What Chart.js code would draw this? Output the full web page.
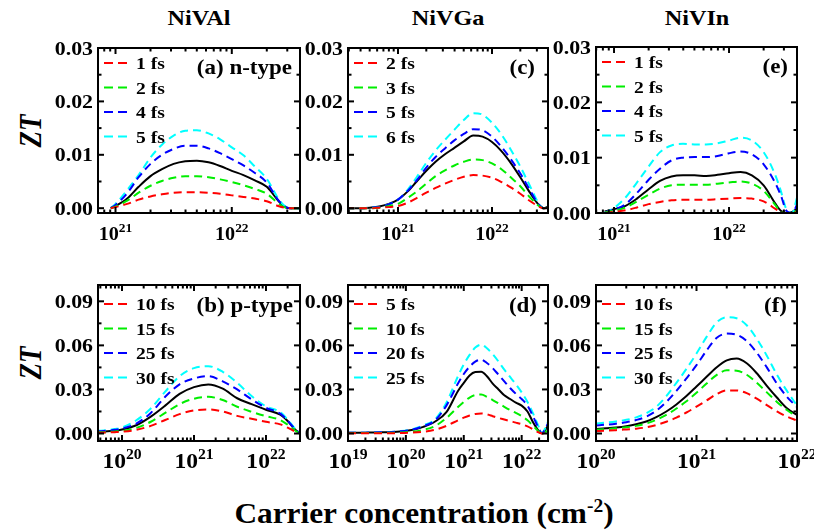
<!DOCTYPE html>
<html><head><meta charset="utf-8">
<script src="https://cdn.jsdelivr.net/npm/chart.js@4/dist/chart.umd.min.js"></script>
<style>
body{margin:0;background:#fff;width:814px;height:532px;overflow:hidden;position:relative;font-family:"Liberation Serif","Times New Roman",serif;}
canvas{position:absolute;}
.t{position:absolute;font-weight:bold;white-space:nowrap;color:#000;line-height:1;}
</style></head><body>
<div class="t" style="left:199px;top:18px;font-size:22px;transform:translate(-50%,-50%) scaleX(1.1)">NiVAl</div>
<div class="t" style="left:448px;top:18px;font-size:22px;transform:translate(-50%,-50%) scaleX(1.1)">NiVGa</div>
<div class="t" style="left:697px;top:18px;font-size:22px;transform:translate(-50%,-50%) scaleX(1.1)">NiVIn</div>
<div class="t" style="left:31px;top:131px;font-size:27px;font-style:italic;transform:translate(-50%,-50%) rotate(-90deg) scaleY(1.15)">ZT</div>
<div class="t" style="left:31px;top:363px;font-size:27px;font-style:italic;transform:translate(-50%,-50%) rotate(-90deg) scaleY(1.15)">ZT</div>
<div class="t" style="left:424px;top:512px;font-size:29px;transform:translate(-50%,-50%) scaleX(1.08)">Carrier concentration (cm<sup style="font-size:18px;vertical-align:11px">-2</sup>)</div>
<script>
// ---------- DATA ----------
const colors = ['#ff0000', '#00ee00', '#0000ff', '#00ffff'];

// (a) NiVAl n-type
const xA = [9.1e20, 1e21, 1.26e21, 1.58e21, 2e21, 2.51e21, 3.16e21, 3.98e21, 5.01e21, 6.31e21, 7.94e21, 1e22, 1.26e22, 1.58e22, 2e22, 2.51e22, 2.82e22, 3.16e22, 3.86e22];
const labelsA = ['1 fs', '2 fs', '4 fs', '5 fs'];
const a1 = [0, 0.0002, 0.0008, 0.0016, 0.0022, 0.0026, 0.0029, 0.0030, 0.0030, 0.0029, 0.0027, 0.0024, 0.0021, 0.0018, 0.0013, 0.0004, 0.0001, 0, 0];
const a2 = [0, 0.0003, 0.0014, 0.0029, 0.0042, 0.0051, 0.0057, 0.0060, 0.0060, 0.0058, 0.0054, 0.0049, 0.0043, 0.0036, 0.0027, 0.0009, 0.0002, 0, 0];
const a4 = [0, 0.0006, 0.0028, 0.0058, 0.0083, 0.0100, 0.0111, 0.0117, 0.0117, 0.0112, 0.0103, 0.0092, 0.0080, 0.0066, 0.0048, 0.0015, 0.0004, 0, 0];
const a5 = [0, 0.0008, 0.0034, 0.0062, 0.0095, 0.0119, 0.0136, 0.0145, 0.0146, 0.0140, 0.0129, 0.0114, 0.0099, 0.0078, 0.0055, 0.0018, 0.0005, 0, 0];
const aK = [0, 0.0004, 0.0018, 0.0040, 0.0060, 0.0073, 0.0083, 0.0088, 0.0089, 0.0086, 0.0079, 0.0070, 0.0062, 0.0052, 0.0040, 0.0014, 0.0003, 0, 0];

// (c) NiVGa n-type
const xC = [2.82e20, 3.98e20, 5.01e20, 6.31e20, 7.94e20, 1e21, 1.26e21, 1.58e21, 2e21, 2.51e21, 3.16e21, 3.98e21, 5.01e21, 6.31e21, 7.94e21, 1e22, 1.26e22, 1.58e22, 2e22, 2.51e22, 3.16e22, 3.55e22, 3.98e22];
const labelsC = ['2 fs', '3 fs', '5 fs', '6 fs'];
const c2 = [0, 0, 0, 0.0001, 0.0002, 0.0004, 0.0010, 0.0019, 0.0029, 0.0038, 0.0046, 0.0053, 0.0059, 0.0062, 0.0061, 0.0057, 0.0049, 0.0039, 0.0027, 0.0014, 0.0003, 0, 0.0001];
const c3 = [0, 0, 0, 0.0001, 0.0004, 0.0008, 0.0019, 0.0031, 0.0046, 0.0060, 0.0071, 0.0080, 0.0087, 0.0091, 0.0090, 0.0084, 0.0073, 0.0058, 0.0041, 0.0021, 0.0004, 0, 0.0002];
const c5 = [0, 0, 0.0001, 0.0002, 0.0007, 0.0016, 0.0032, 0.0052, 0.0076, 0.0096, 0.0112, 0.0127, 0.0139, 0.0148, 0.0146, 0.0134, 0.0115, 0.0092, 0.0065, 0.0035, 0.0006, 0, 0.0003];
const c6 = [0, 0, 0.0001, 0.0002, 0.0007, 0.0016, 0.0034, 0.0058, 0.0085, 0.0108, 0.0128, 0.0147, 0.0165, 0.0178, 0.0175, 0.0160, 0.0138, 0.0110, 0.0078, 0.0043, 0.0008, 0, 0.0004];
const cK = [0, 0, 0.0001, 0.0003, 0.0008, 0.0016, 0.0031, 0.0050, 0.0070, 0.0087, 0.0101, 0.0113, 0.0125, 0.0136, 0.0134, 0.0124, 0.0107, 0.0085, 0.0058, 0.0030, 0.0006, 0, 0.0003];

// (e) NiVIn n-type
const xE = [8.3e20, 1e21, 1.26e21, 1.58e21, 2e21, 2.51e21, 3.16e21, 3.98e21, 5.01e21, 6.31e21, 7.94e21, 1e22, 1.26e22, 1.58e22, 2e22, 2.51e22, 2.82e22, 3.16e22, 3.55e22, 3.9e22];
const labelsE = ['1 fs', '2 fs', '4 fs', '5 fs'];
const e1 = [0, 0.0002, 0.0005, 0.0010, 0.0016, 0.0020, 0.0023, 0.0024, 0.0024, 0.0024, 0.0025, 0.0026, 0.0027, 0.0026, 0.0021, 0.0008, 0.0001, 0, 0, 0.0002];
const e2 = [0.0001, 0.0004, 0.0010, 0.0021, 0.0033, 0.0044, 0.0050, 0.0051, 0.0051, 0.0051, 0.0053, 0.0055, 0.0057, 0.0053, 0.0040, 0.0015, 0.0002, 0, 0, 0.0004];
const e4 = [0.0001, 0.0006, 0.0016, 0.0036, 0.0060, 0.0080, 0.0095, 0.0100, 0.0101, 0.0101, 0.0103, 0.0108, 0.0111, 0.0106, 0.0088, 0.0055, 0.0032, 0.0004, 0, 0.0015];
const e5 = [0, 0.0009, 0.0028, 0.0055, 0.0084, 0.0110, 0.0122, 0.0125, 0.0124, 0.0124, 0.0126, 0.0131, 0.0136, 0.0131, 0.0110, 0.0070, 0.0040, 0.0006, 0, 0.0028];
const eK = [0.0003, 0.0007, 0.0013, 0.0026, 0.0043, 0.0058, 0.0066, 0.0068, 0.0068, 0.0067, 0.0069, 0.0072, 0.0074, 0.0068, 0.0050, 0.0018, 0.0004, 0, 0.0002, 0.0008];

// (b) NiVAl p-type
const xB = [4.6e19, 6.31e19, 7.94e19, 1e20, 1.58e20, 2.51e20, 3.98e20, 6.31e20, 1e21, 1.58e21, 2.51e21, 3.98e21, 6.31e21, 1e22, 1.58e22, 2e22, 2.51e22, 2.97e22];
const labelsB = ['10 fs', '15 fs', '25 fs', '30 fs'];
const b10 = [0.0005, 0.0007, 0.0009, 0.0012, 0.0025, 0.0052, 0.0092, 0.0132, 0.0157, 0.0164, 0.0150, 0.0120, 0.0100, 0.0080, 0.0062, 0.0040, 0.0015, 0];
const b15 = [0.0008, 0.0010, 0.0014, 0.0018, 0.0038, 0.0080, 0.0140, 0.0200, 0.0237, 0.0250, 0.0228, 0.0182, 0.0148, 0.0118, 0.0092, 0.0060, 0.0022, 0];
const b25 = [0.0015, 0.0019, 0.0025, 0.0034, 0.0068, 0.0140, 0.0250, 0.0335, 0.0375, 0.0390, 0.0355, 0.0300, 0.0233, 0.0175, 0.0135, 0.0088, 0.0032, 0];
const b30 = [0.0018, 0.0023, 0.0030, 0.0041, 0.0090, 0.0170, 0.0285, 0.0390, 0.0445, 0.0458, 0.0420, 0.0345, 0.0255, 0.0185, 0.0145, 0.0095, 0.0035, 0];
const bK = [0.0012, 0.0015, 0.0020, 0.0027, 0.0056, 0.0115, 0.0190, 0.0270, 0.0316, 0.0334, 0.0305, 0.0240, 0.0200, 0.0162, 0.0128, 0.0085, 0.0030, 0];

// (d) NiVGa p-type
const xD = [1e19, 2e19, 3.98e19, 7.94e19, 1.26e20, 2e20, 3.16e20, 5.01e20, 7.94e20, 1e21, 1.26e21, 1.58e21, 2e21, 2.51e21, 3.16e21, 3.98e21, 5.01e21, 6.31e21, 7.94e21, 1e22, 1.26e22, 1.58e22, 2e22, 2.24e22, 2.51e22, 2.85e22];
const labelsD = ['5 fs', '10 fs', '20 fs', '25 fs'];
const d5 = [0.0001, 0.0001, 0.0002, 0.0003, 0.0006, 0.0012, 0.0025, 0.0052, 0.0090, 0.0108, 0.0123, 0.0133, 0.0136, 0.0130, 0.0118, 0.0106, 0.0095, 0.0084, 0.0074, 0.0063, 0.0048, 0.0028, 0.0006, 0, 0.0003, 0.0008];
const d10 = [0.0003, 0.0003, 0.0004, 0.0007, 0.0012, 0.0025, 0.0050, 0.0105, 0.0180, 0.0215, 0.0245, 0.0262, 0.0265, 0.0250, 0.0228, 0.0205, 0.0182, 0.0160, 0.0140, 0.0118, 0.0090, 0.0052, 0.0012, 0, 0.0008, 0.0020];
const d20 = [0.0005, 0.0006, 0.0008, 0.0015, 0.0026, 0.0050, 0.0088, 0.0190, 0.0340, 0.0405, 0.0455, 0.0490, 0.0503, 0.0480, 0.0445, 0.0400, 0.0355, 0.0310, 0.0270, 0.0235, 0.0190, 0.0115, 0.0030, 0.0002, 0.0025, 0.0070];
const d25 = [0.0005, 0.0006, 0.0008, 0.0016, 0.0028, 0.0055, 0.0095, 0.0210, 0.0390, 0.0470, 0.0535, 0.0585, 0.0605, 0.0580, 0.0540, 0.0490, 0.0435, 0.0385, 0.0335, 0.0280, 0.0215, 0.0135, 0.0040, 0.0003, 0.0030, 0.0080];
const dK = [0.0005, 0.0006, 0.0008, 0.0014, 0.0024, 0.0045, 0.0080, 0.0145, 0.0290, 0.0345, 0.0395, 0.0418, 0.0420, 0.0390, 0.0340, 0.0300, 0.0260, 0.0235, 0.0210, 0.0190, 0.0150, 0.0075, 0.0015, 0, 0.0020, 0.0055];

// (f) NiVIn p-type
const xF = [1e20, 1.26e20, 1.58e20, 2e20, 2.51e20, 3.16e20, 3.98e20, 5.01e20, 6.31e20, 7.94e20, 1e21, 1.26e21, 1.58e21, 2e21, 2.51e21, 3.16e21, 3.98e21, 5.01e21, 6.31e21, 7.94e21, 1e22];
const labelsF = ['10 fs', '15 fs', '25 fs', '30 fs'];
const f10 = [0.0017, 0.0019, 0.0023, 0.0028, 0.0033, 0.0042, 0.0058, 0.0080, 0.0108, 0.0143, 0.0183, 0.0225, 0.0268, 0.0293, 0.0293, 0.0275, 0.0237, 0.0193, 0.0150, 0.0115, 0.0088];
const f15 = [0.0026, 0.0030, 0.0035, 0.0042, 0.0052, 0.0068, 0.0093, 0.0127, 0.0170, 0.0220, 0.0278, 0.0340, 0.0398, 0.0430, 0.0428, 0.0400, 0.0345, 0.0280, 0.0215, 0.0160, 0.0115];
const f25 = [0.0055, 0.0060, 0.0067, 0.0077, 0.0092, 0.0115, 0.0155, 0.0215, 0.0290, 0.0375, 0.0465, 0.0565, 0.0650, 0.0680, 0.0672, 0.0630, 0.0550, 0.0450, 0.0340, 0.0250, 0.0180];
const f30 = [0.0068, 0.0074, 0.0082, 0.0093, 0.0110, 0.0138, 0.0182, 0.0255, 0.0345, 0.0440, 0.0545, 0.0658, 0.0755, 0.0792, 0.0785, 0.0737, 0.0645, 0.0530, 0.0400, 0.0290, 0.0190];
const fK = [0.0030, 0.0035, 0.0041, 0.0050, 0.0063, 0.0082, 0.0112, 0.0150, 0.0198, 0.0255, 0.0320, 0.0386, 0.0450, 0.0498, 0.0510, 0.0478, 0.0410, 0.0325, 0.0245, 0.0172, 0.0126];

// tick values
const yMajorTop = [0, 0.01, 0.02, 0.03];
const yMinorTop = [0.005, 0.015, 0.025];
const yMajorBot = [0, 0.03, 0.06, 0.09];
const yMinorBot = [0.015, 0.045, 0.075];
const xMajorA = [1e21, 1e22], xMajorC = [1e21, 1e22], xMajorE = [1e21, 1e22];
const xMajorB = [1e20, 1e21, 1e22], xMajorD = [1e19, 1e20, 1e21, 1e22], xMajorF = [1e20, 1e21, 1e22];

// ---------- DRAWING ----------
const FONT = '"Liberation Serif","Times New Roman",serif';
function txt(ctx, s, x, y, size, align, sx) {
  ctx.save();
  ctx.font = 'bold ' + size + 'px ' + FONT;
  ctx.fillStyle = '#000';
  ctx.textBaseline = 'alphabetic';
  ctx.textAlign = 'left';
  ctx.translate(x, y);
  ctx.scale(sx, 1);
  const w = ctx.measureText(s).width;
  const ox = align === 'right' ? -w : (align === 'center' ? -w / 2 : 0);
  ctx.fillText(s, ox, 0);
  ctx.restore();
  return w * sx;
}
function measure(ctx, s, size) {
  ctx.save(); ctx.font = 'bold ' + size + 'px ' + FONT;
  const w = ctx.measureText(s).width; ctx.restore(); return w;
}
const framePlugin = {
  id: 'frame',
  afterDatasetsDraw(chart) {
    const p = chart.options.plugins.frame;
    const ctx = chart.ctx, a = chart.chartArea, x = chart.scales.x, y = chart.scales.y;
    ctx.save();
    ctx.strokeStyle = '#000';
    ctx.lineWidth = 2;
    ctx.setLineDash([]);
    const seg = (x1, y1, x2, y2) => { ctx.beginPath(); ctx.moveTo(x1, y1); ctx.lineTo(x2, y2); ctx.stroke(); };
    p.yMajor.forEach(v => { const py = y.getPixelForValue(v); seg(a.left, py, a.left + 6, py); seg(a.right, py, a.right - 6, py); });
    p.yMinor.forEach(v => { const py = y.getPixelForValue(v); seg(a.left, py, a.left + 3.5, py); seg(a.right, py, a.right - 3.5, py); });
    const lo = Math.floor(Math.log10(x.min)), hi = Math.ceil(Math.log10(x.max));
    for (let e = lo; e <= hi; e++) {
      for (let k = 1; k <= 9; k++) {
        const v = k * Math.pow(10, e);
        if (v < x.min * 0.999 || v > x.max * 1.001) continue;
        const px = x.getPixelForValue(v), len = k === 1 ? 6 : 3.5;
        seg(px, a.bottom, px, a.bottom - len); seg(px, a.top, px, a.top + len);
      }
    }
    ctx.strokeRect(a.left, a.top, a.right - a.left, a.bottom - a.top);
    // y labels
    p.yMajor.forEach(v => txt(ctx, v.toFixed(2), a.left - 5, y.getPixelForValue(v) + 6.5, 19, 'right', 1.15));
    // x labels 10^n
    p.xMajor.forEach(v => {
      const ex = String(Math.round(Math.log10(v)));
      const sx = 1.12;
      const w = (measure(ctx, '10', p.xs) + measure(ctx, ex, p.xe)) * sx;
      const px = x.getPixelForValue(v) - w / 2;
      const by = a.bottom + p.xBase;
      const w10 = txt(ctx, '10', px, by, p.xs, 'left', sx);
      txt(ctx, ex, px + w10, by - p.xRaise, p.xe, 'left', sx);
    });
    // legend
    chart.data.datasets.forEach((ds, i) => {
      if (!ds.inLegend) return;
      const ly = a.top + p.legTop + i * 24.5;
      ctx.save();
      ctx.strokeStyle = ds.borderColor; ctx.lineWidth = 2; ctx.setLineDash([9, 5]);
      seg(a.left + 6, ly, a.left + 33, ly);
      ctx.restore();
      txt(ctx, ds.label, a.left + 38, ly + 6, 17, 'left', 1.15);
    });
    // panel label
    txt(ctx, p.tag, a.right - p.tagRight, a.top + p.tagTop, 20, 'right', 1.15);
    ctx.restore();
  }
};

function makePanel(cfg) {
  const PL = 60, PT = 14, PR = 30, PB = 50;
  const W = PL + cfg.w + PR, H = PT + cfg.h + PB;
  const cv = document.createElement('canvas');
  cv.width = W; cv.height = H;
  cv.style.width = W + 'px'; cv.style.height = H + 'px';
  cv.style.left = (cfg.left - PL) + 'px'; cv.style.top = (cfg.top - PT) + 'px';
  document.body.appendChild(cv);
  const datasets = cfg.series.map((s, i) => ({
    label: cfg.labels[i],
    data: cfg.xs.map((xv, j) => ({ x: xv, y: s[j] })),
    borderColor: colors[i], borderWidth: 2, borderDash: [8, 5],
    pointRadius: 0, fill: false, cubicInterpolationMode: 'monotone', inLegend: true
  }));
  datasets.push({
    label: 'total', data: cfg.xs.map((xv, j) => ({ x: xv, y: cfg.black[j] })),
    borderColor: '#000', borderWidth: 2, pointRadius: 0, fill: false,
    cubicInterpolationMode: 'monotone', inLegend: false
  });
  new Chart(cv, {
    type: 'line',
    data: { datasets },
    options: {
      responsive: false, animation: false, devicePixelRatio: 1,
      layout: { padding: { left: PL, top: PT, right: PR, bottom: PB } },
      scales: {
        x: { type: 'logarithmic', display: false, min: cfg.xmin, max: cfg.xmax },
        y: { type: 'linear', display: false, min: cfg.ymin, max: cfg.ymax }
      },
      plugins: {
        legend: { display: false }, tooltip: { enabled: false },
        frame: {
          yMajor: cfg.yMajor, yMinor: cfg.yMinor, xMajor: cfg.xMajor,
          xs: cfg.xs10, xe: cfg.xe10, xBase: 27, xRaise: cfg.xRaise,
          legTop: cfg.legTop, tag: cfg.tag, tagRight: cfg.tagRight, tagTop: cfg.tagTop
        }
      }
    },
    plugins: [framePlugin]
  });
}

const topRow = { h: 165, ymin: -0.0009, ymax: 0.03, yMajor: yMajorTop, yMinor: yMinorTop, xs10: 18, xe10: 12, xRaise: 8, legTop: 15, tagTop: 26 };
const botRow = { h: 156, ymin: -0.0051, ymax: 0.1011, yMajor: yMajorBot, yMinor: yMinorBot, xs10: 21, xe10: 14, xRaise: 9, legTop: 19, tagTop: 27 };

makePanel(Object.assign({}, topRow, { left: 98, top: 48, w: 202, xmin: 7.07e20, xmax: 3.86e22, xs: xA, series: [a1, a2, a4, a5], black: aK, labels: labelsA, xMajor: xMajorA, tag: '(a) n-type', tagRight: 8 }));
makePanel(Object.assign({}, topRow, { left: 348, top: 48, w: 200, xmin: 2.94e20, xmax: 3.94e22, xs: xC, series: [c2, c3, c5, c6], black: cK, labels: labelsC, xMajor: xMajorC, tag: '(c)', tagRight: 13 }));
makePanel(Object.assign({}, topRow, { left: 596, top: 47, w: 201, h: 166, ymin: 0, xmin: 6.97e20, xmax: 3.9e22, xs: xE, series: [e1, e2, e4, e5], black: eK, labels: labelsE, xMajor: xMajorE, tag: '(e)', tagRight: 9 }));
makePanel(Object.assign({}, botRow, { left: 98, top: 285, w: 202, xmin: 4.64e19, xmax: 2.97e22, xs: xB, series: [b10, b15, b25, b30], black: bK, labels: labelsB, xMajor: xMajorB, tag: '(b) p-type', tagRight: 7 }));
makePanel(Object.assign({}, botRow, { left: 348, top: 285, w: 200, xmin: 1e19, xmax: 2.85e22, xs: xD, series: [d5, d10, d20, d25], black: dK, labels: labelsD, xMajor: xMajorD, tag: '(d)', tagRight: 11 }));
makePanel(Object.assign({}, botRow, { left: 596, top: 285, w: 201, xmin: 1e20, xmax: 1e22, xs: xF, series: [f10, f15, f25, f30], black: fK, labels: labelsF, xMajor: xMajorF, tag: '(f)', tagRight: 10 }));
</script>
</body></html>
